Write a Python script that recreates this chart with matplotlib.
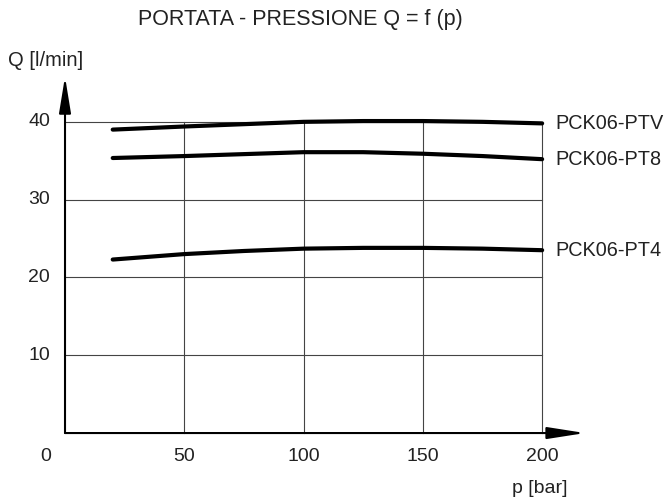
import matplotlib.pyplot as plt
import numpy as np

plt.rcParams['font.family'] = ['Liberation Sans', 'DejaVu Sans']

# pressure p [bar] and flow Q [l/min]
p = [20, 50, 75, 100, 125, 150, 175, 200]
q_ptv = [39.0, 39.4, 39.7, 40.0, 40.1, 40.1, 40.0, 39.8]
q_pt8 = [35.35, 35.6, 35.85, 36.1, 36.1, 35.9, 35.6, 35.2]
q_pt4 = [22.3, 23.0, 23.4, 23.7, 23.8, 23.8, 23.7, 23.5]
names = ['PCK06-PTV', 'PCK06-PT8', 'PCK06-PT4']

x_ticks = [0, 50, 100, 150, 200]
y_ticks = [10, 20, 30, 40]

fig = plt.figure(figsize=(6.65, 4.98), dpi=100)
ax = fig.add_axes([0, 0, 1, 1])
ax.set_xlim(-27.25, 251.5)
ax.set_ylim(-8.35, 55.66)
ax.axis('off')

txt = '#222222'

# grid
for x in x_ticks[1:]:
    ax.plot([x, x], [0, 40], color='#444444', lw=0.8, zorder=1)
for y in y_ticks:
    ax.plot([0, 200], [y, y], color='#444444', lw=0.8, zorder=1)

# axes with arrows
ax.annotate('', xy=(218, 0), xytext=(0, 0),
            arrowprops=dict(arrowstyle='-|>,head_length=1.15,head_width=0.18',
                            color='black', lw=1.5, mutation_scale=20,
                            shrinkA=0, shrinkB=0))
ax.annotate('', xy=(0, 45.8), xytext=(0, 0),
            arrowprops=dict(arrowstyle='-|>,head_length=1.1,head_width=0.18',
                            color='black', lw=1.5, mutation_scale=20,
                            shrinkA=0, shrinkB=0))

# curves
for q, name in zip([q_ptv, q_pt8, q_pt4], names):
    ax.plot(p, q, color='black', lw=3, solid_capstyle='round', zorder=3)
    ax.text(205.5, q[-1], name, fontsize=14.3, va='center', ha='left', color=txt)

# tick labels
for x in x_ticks:
    ax.text(x if x else -8, -3.05, str(x), fontsize=14, ha='center',
            va='center', color=txt)
for y in y_ticks:
    ax.text(-6.3, y, str(y), fontsize=14, ha='right', va='center', color=txt)

ax.text(-23.9, 47.85, 'Q [l/min]', fontsize=14.5, ha='left', va='center', color=txt)
ax.text(199.2, -7.07, 'p [bar]', fontsize=14, ha='center', va='center', color=txt)
ax.text(98.5, 53.2, 'PORTATA - PRESSIONE Q = f (p)', fontsize=15.5,
        ha='center', va='center', color=txt)

fig.savefig('out.png', dpi=100)
